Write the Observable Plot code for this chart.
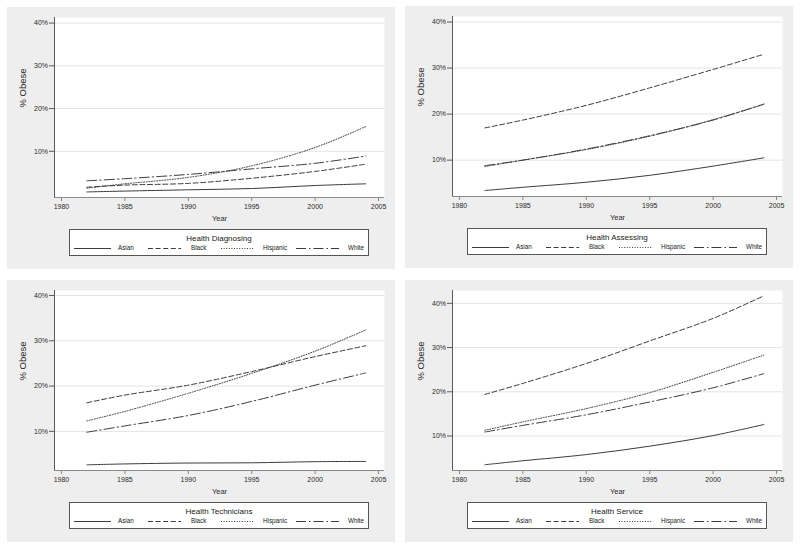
<!DOCTYPE html>
<html>
<head>
<meta charset="utf-8">
<script src="https://cdn.jsdelivr.net/npm/d3@7"></script>
<script src="https://cdn.jsdelivr.net/npm/@observablehq/plot@0.6"></script>
<style>
  html, body { margin: 0; padding: 0; background: #ffffff; }
  #root { position: relative; width: 800px; height: 550px; font-family: "Liberation Sans", Arial, sans-serif; }
  .panel { position: absolute; width: 388px; height: 262px; background: #eeeeee; }
  .panel svg.plotsvg { position: absolute; left: 0; top: 0; }
  .legend { position: absolute; left: 62px; top: 222px; }
</style>
</head>
<body>
<div id="root"></div>
<script>
// ---- data ----
const years = [1982, 1985, 1990, 1995, 2000, 2004];
const groups = ["Asian", "Black", "Hispanic", "White"];
const panelTitles = ["Health Diagnosing", "Health Assessing", "Health Technicians", "Health Service"];
const xTicks = [1980, 1985, 1990, 1995, 2000, 2005];
const yTicks = [10, 20, 30, 40];

// values per group: Asian, Black, Hispanic, White
const diagnosing = [
  [0.5, 0.7, 1.0, 1.3, 2.0, 2.4],
  [1.6, 2.1, 2.5, 3.7, 5.3, 7.0],
  [1.4, 2.4, 3.9, 6.6, 10.9, 15.8],
  [3.1, 3.6, 4.6, 5.9, 7.2, 8.9]
];
const assessing = [
  [3.4, 4.1, 5.2, 6.7, 8.7, 10.5],
  [17.0, 18.7, 21.9, 25.7, 29.7, 33.0],
  [8.6, 10.0, 12.3, 15.2, 18.8, 22.1],
  [8.8, 10.0, 12.4, 15.3, 18.7, 22.2]
];
const technicians = [
  [2.6, 2.8, 3.0, 3.05, 3.3, 3.35],
  [16.3, 18.0, 20.2, 23.2, 26.5, 28.9],
  [12.3, 14.4, 18.4, 22.8, 27.7, 32.4],
  [9.8, 11.2, 13.5, 16.6, 20.2, 22.9]
];
const service = [
  [3.5, 4.4, 5.8, 7.7, 10.1, 12.6],
  [19.4, 21.9, 26.4, 31.5, 36.6, 41.7],
  [11.3, 13.2, 16.2, 19.8, 24.4, 28.3],
  [10.9, 12.4, 14.8, 17.7, 20.9, 24.1]
];

// ---- styles ----
const dashes = { Asian: null, Black: "5,2.6", Hispanic: "1,1.6", White: "10,3,1.5,3" };
const lineColor = "#3c3c3c";
const axisColor = "#5a5a5a";

const panels = [
  { title: panelTitles[0], values: diagnosing, left: 7, top: 7, yDomain: [-0.8, 41.3] },
  { title: panelTitles[1], values: assessing, left: 405, top: 6, yDomain: [2.1, 41.2] },
  { title: panelTitles[2], values: technicians, left: 7, top: 280, yDomain: [1.35, 41.1] },
  { title: panelTitles[3], values: service, left: 405, top: 280, yDomain: [2.2, 42.9] }
];
const xDomain = [1979.45, 2005.47];

const root = document.getElementById("root");

panels.forEach(p => {
  const rows = [];
  groups.forEach((g, gi) => years.forEach((yr, i) => rows.push({ group: g, year: yr, value: p.values[gi][i] })));

  const div = document.createElement("div");
  div.className = "panel";
  div.style.left = p.left + "px";
  div.style.top = p.top + "px";

  const chart = Plot.plot({
    width: 388,
    height: 228,
    marginLeft: 47,
    marginRight: 11,
    marginTop: 10,
    marginBottom: 38,
    style: { background: "transparent", fontFamily: "'Liberation Sans', Arial, sans-serif", fontSize: "7px", color: "#2a2a2a", overflow: "visible" },
    x: { domain: xDomain, label: null },
    y: { domain: p.yDomain, label: null },
    marks: [
      Plot.frame({ fill: "white", stroke: null }),
      Plot.ruleY(yTicks, { stroke: "#e4e4e4", strokeWidth: 1 }),
      Plot.ruleX([xDomain[0]], { stroke: axisColor, strokeWidth: 1 }),
      Plot.ruleY([p.yDomain[0]], { stroke: "#8a8a8a", strokeWidth: 1 }),
      Plot.axisY(yTicks, { tickSize: 5, tickPadding: 1.5, tickFormat: d => d + "%", label: null, stroke: axisColor, fontSize: 7 }),
      Plot.axisX(xTicks, { tickSize: 4, tickPadding: 2.5, tickFormat: d => String(d), label: null, stroke: "#8a8a8a", fontSize: 7 }),
      ...groups.map(g => Plot.lineY(rows.filter(r => r.group === g), {
        x: "year", y: "value", curve: "catmull-rom",
        stroke: lineColor, strokeWidth: 1,
        strokeDasharray: dashes[g] || undefined
      })),
      Plot.text(["% Obese"], { frameAnchor: "left", dx: -32, rotate: -90, fontSize: 9.5, fill: "#2a2a2a" }),
      Plot.text(["Year"], { frameAnchor: "bottom", dy: 23, fontSize: 7.5, fill: "#2a2a2a" })
    ]
  });
  chart.classList.add("plotsvg");
  div.appendChild(chart);

  // legend box
  const W = 300, H = 27;
  const lg = d3.create("svg").attr("class", "legend").attr("width", W).attr("height", H)
    .style("font-family", "'Liberation Sans', Arial, sans-serif");
  lg.append("rect").attr("x", 0.5).attr("y", 0.5).attr("width", W - 1).attr("height", H - 1)
    .attr("fill", "white").attr("stroke", "#555").attr("stroke-width", 1);
  lg.append("text").attr("x", W / 2).attr("y", 9.5).attr("text-anchor", "middle")
    .attr("dominant-baseline", "middle").attr("font-size", 8).attr("fill", "#222").text(p.title);
  const keyPos = [
    { x0: 5, x1: 42, tx: 49 },
    { x0: 79, x1: 112, tx: 122 },
    { x0: 152, x1: 185, tx: 194 },
    { x0: 227, x1: 270, tx: 279 }
  ];
  groups.forEach((g, i) => {
    const k = keyPos[i];
    lg.append("line").attr("x1", k.x0).attr("x2", k.x1).attr("y1", 19.5).attr("y2", 19.5)
      .attr("stroke", lineColor).attr("stroke-width", 1)
      .attr("stroke-dasharray", dashes[g]);
    lg.append("text").attr("x", k.tx).attr("y", 19.5).attr("dominant-baseline", "middle")
      .attr("font-size", 6.3).attr("fill", "#222").text(g);
  });
  div.appendChild(lg.node());
  root.appendChild(div);
});
</script>
</body>
</html>
